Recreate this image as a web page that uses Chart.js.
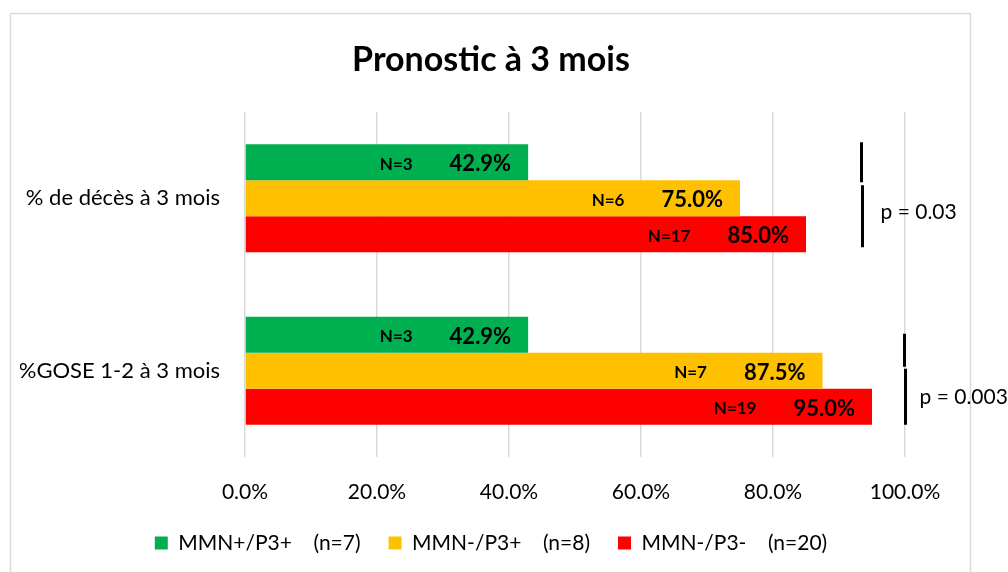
<!DOCTYPE html>
<html lang="fr">
<head>
<meta charset="utf-8">
<title>Pronostic à 3 mois</title>
<script src="https://cdn.jsdelivr.net/npm/chart.js@4.4.1/dist/chart.umd.min.js"></script>
<style>
  html, body { margin: 0; padding: 0; background: #fff; }
  #wrap { width: 1008px; height: 572px; }
</style>
</head>
<body>
<div id="wrap"><canvas id="pronosticChart" width="1008" height="572"></canvas></div>
<script>
// ---- data ----
const categories = ['% de décès à 3 mois', '%GOSE 1-2 à 3 mois'];
const seriesLabels = ['MMN+/P3+    (n=7)', 'MMN-/P3+    (n=8)', 'MMN-/P3-    (n=20)'];
const greenPct = [42.9, 42.9];
const yellowPct = [75.0, 87.5];
const redPct = [85.0, 95.0];
const greenN = [3, 3];
const yellowN = [6, 7];
const redN = [17, 19];
const pValues = ['p = 0.03', 'p = 0.003'];
const xTicks = [0, 20, 40, 60, 80, 100];

const FONT = 'Lato';
const colors = { green: '#00B050', yellow: '#FFC000', red: '#FF0000', grid: '#d9d9d9', text: '#000' };

// grey frame round the whole chart
const frameBorder = {
    id: 'frameBorder',
    beforeDraw(chart) {
        const ctx = chart.ctx;
        ctx.save();
        ctx.fillStyle = '#fff';
        ctx.fillRect(0, 0, chart.width, chart.height);
        ctx.strokeStyle = colors.grid;
        ctx.lineWidth = 1.5;
        ctx.strokeRect(10.5, 13.5, 960, 700);
        ctx.restore();
    }
};

// "N=x   yy.y%" inside the end of each bar
const barLabels = {
    id: 'barLabels',
    afterDatasetsDraw(chart) {
        const ctx = chart.ctx;
        ctx.save();
        ctx.fillStyle = colors.text;
        ctx.textBaseline = 'middle';
        ctx.textAlign = 'right';
        chart.data.datasets.forEach((ds, i) => {
            chart.getDatasetMeta(i).data.forEach((bar, j) => {
                const pct = ds.data[j].toFixed(1) + '%';
                const xPct = bar.x - 17;
                ctx.font = `bold 22px ${FONT}`;
                ctx.fillText(pct, xPct, bar.y + 2);
                const w = ctx.measureText(pct).width;
                ctx.font = `bold 17px ${FONT}`;
                ctx.fillText('N=' + ds.counts[j], xPct - w - 37, bar.y + 2);
            });
        });
        ctx.restore();
    }
};

// significance brackets + p values on the right
const pValueMarks = {
    id: 'pValueMarks',
    afterDraw(chart) {
        const ctx = chart.ctx;
        const xs = chart.scales.x, ys = chart.scales.y;
        const marks = [
            { at: 93.5, top: -56, gapA: -16, gapB: -13, bottom: 49, dx: 19, dy: 14 },
            { at: 100, top: -37, gapA: -4, gapB: -2, bottom: 54, dx: 15, dy: 26 }
        ];
        ctx.save();
        ctx.strokeStyle = '#000';
        ctx.lineWidth = 3;
        ctx.fillStyle = colors.text;
        ctx.font = `21px ${FONT}`;
        ctx.textBaseline = 'middle';
        ctx.textAlign = 'left';
        marks.forEach((m, i) => {
            const x = Math.round(xs.getPixelForValue(m.at)) - 0.5;
            const yc = ys.getPixelForValue(i);
            ctx.beginPath();
            ctx.moveTo(x, yc + m.top);
            ctx.lineTo(x, yc + m.gapA);
            ctx.moveTo(x + 1, yc + m.gapB);
            ctx.lineTo(x + 1, yc + m.bottom);
            ctx.stroke();
            ctx.fillText(pValues[i], x + m.dx, yc + m.dy);
        });
        ctx.restore();
    }
};

const ctx = document.getElementById('pronosticChart');
new Chart(ctx, {
    type: 'bar',
    data: {
        labels: categories,
        datasets: [
            { label: seriesLabels[0], data: greenPct, counts: greenN, backgroundColor: colors.green },
            { label: seriesLabels[1], data: yellowPct, counts: yellowN, backgroundColor: colors.yellow },
            { label: seriesLabels[2], data: redPct, counts: redN, backgroundColor: colors.red }
        ]
    },
    options: {
        indexAxis: 'y',
        responsive: false,
        animation: false,
        categoryPercentage: 0.626,
        barPercentage: 1.0,
        layout: { padding: { top: 0, left: 20, right: 46, bottom: 8.5 } },
        plugins: {
            title: {
                display: true,
                text: 'Pronostic à 3 mois',
                color: colors.text,
                font: { family: FONT, size: 34, weight: 'bold', lineHeight: 1.2 },
                padding: { top: 39.6, bottom: 31.6 }
            },
            legend: {
                position: 'bottom',
                labels: {
                    color: colors.text,
                    font: { family: FONT, size: 21 },
                    boxWidth: 13,
                    boxHeight: 13,
                    padding: 28
                }
            },
            tooltip: { enabled: false }
        },
        scales: {
            x: {
                min: 0,
                max: 100,
                afterBuildTicks(scale) { scale.ticks = xTicks.map(v => ({ value: v })); },
                afterFit(scale) { scale.height = 47.5; },
                grid: { color: colors.grid, lineWidth: 1.5, drawTicks: false },
                border: { display: false },
                ticks: {
                    padding: 22.4,
                    color: colors.text,
                    font: { family: FONT, size: 21 },
                    callback: v => v.toFixed(1) + '%'
                }
            },
            y: {
                afterFit(scale) { scale.width = 225; },
                grid: { display: false, drawTicks: false },
                border: { display: false },
                ticks: {
                    padding: 25,
                    color: colors.text,
                    font: { family: FONT, size: 22 }
                }
            },
            // empty right-hand spacer so the title sits where it does in the original
            spacer: {
                type: 'linear',
                position: 'right',
                afterFit(scale) { scale.width = 57; },
                grid: { display: false },
                border: { display: false },
                ticks: { display: false }
            }
        }
    },
    plugins: [frameBorder, barLabels, pValueMarks]
});
</script>
</body>
</html>
